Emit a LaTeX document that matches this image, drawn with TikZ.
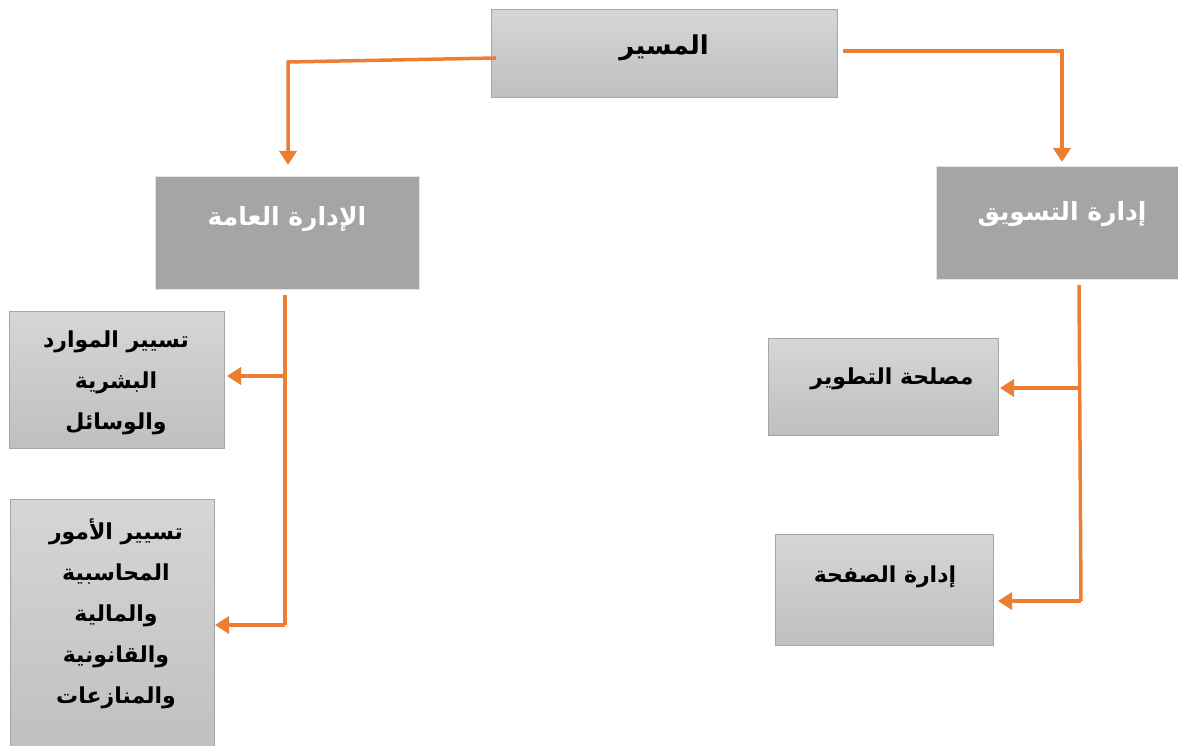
\documentclass[tikz,border=0pt]{standalone}
\usepackage{fontspec}
\usetikzlibrary{arrows.meta}
\TeXXeTstate=1
\newfontfamily\arabicfont[Script=Arabic]{DejaVu Sans}
\definecolor{orng}{HTML}{ED7D31}
\definecolor{lighttop}{HTML}{D6D6D6}
\definecolor{lightbot}{HTML}{BFBFBF}
\definecolor{lightedge}{HTML}{A6A6A6}
\definecolor{darkfill}{HTML}{A5A5A5}
\definecolor{darkedge}{HTML}{E4E4E4}
\tikzset{
  lightbox/.style={draw=lightedge, line width=1pt, top color=lighttop, bottom color=lightbot, anchor=north west, inner sep=0pt, outer sep=0pt},
  darkbox/.style={draw=darkedge, line width=1pt, fill=darkfill, anchor=north west, inner sep=0pt, outer sep=0pt},
  blacktxt/.style={text=black, font=\arabicfont\bfseries\fontsize{22}{41}\selectfont, align=center, inner sep=0pt},
  whitetxt/.style={text=white, font=\arabicfont\bfseries\fontsize{25}{30}\selectfont, align=center, inner sep=0pt},
  conn/.style={draw=orng, line width=3.5pt},
  arr/.style={conn, -{Triangle[length=14pt,width=17pt]}}
}
\begin{document}
\begin{tikzpicture}[x=1pt,y=-1pt]
\useasboundingbox (0,0) rectangle (1178,746);
% boxes
\node[lightbox, minimum width=346pt, minimum height=88pt] (top) at (491,10) {};
\node[darkbox, minimum width=264pt, minimum height=112pt] (ea) at (155,177) {};
\node[darkbox, minimum width=244pt, minimum height=112pt] (mk) at (936,167) {};
\node[lightbox, minimum width=215pt, minimum height=137pt] (hr) at (9,311) {};
\node[lightbox, minimum width=204pt, minimum height=260pt] (acc) at (10,499) {};
\node[lightbox, minimum width=230pt, minimum height=97pt] (dev) at (768,338) {};
\node[lightbox, minimum width=218pt, minimum height=111pt] (pg) at (775,534) {};
% texts
\node[blacktxt, font=\arabicfont\bfseries\fontsize{26}{30}\selectfont] (ttop) at (664,48) {\beginR المسير\endR};
\node[whitetxt] (tea) at (287,219) {\beginR الإدارة العامة\endR};
\node[whitetxt] (tmk) at (1062,214) {\beginR إدارة التسويق\endR};
\node[blacktxt] (thr) at (116,383) {\beginR تسيير الموارد\endR\\ \beginR البشرية\endR\\ \beginR والوسائل\endR};
\node[blacktxt] (tacc) at (116,614) {\beginR تسيير الأمور\endR\\ \beginR المحاسبية\endR\\ \beginR والمالية\endR\\ \beginR والقانونية\endR\\ \beginR والمنازعات\endR};
\node[blacktxt] (tdev) at (892,379) {\beginR مصلحة التطوير\endR};
\node[blacktxt] (tpg) at (885,577) {\beginR إدارة الصفحة\endR};
% connector points
\coordinate (ta) at (496,58);
\coordinate (tb) at (288,62);
\coordinate (tc) at (843,51);
\coordinate (td) at (1062,51);
\coordinate (eaT) at (285,295);
\coordinate (eaM) at (285,376);
\coordinate (eaB) at (285,625);
\coordinate (mkT) at (1079,285);
\coordinate (mkM) at (1080,388);
\coordinate (mkB) at (1081,601);
% connectors
\draw[arr, shorten >=12pt] (ta) -- (tb) -- (tb |- ea.north);
\draw[arr, shorten >=5pt] (tc) -- (td) -- (td |- mk.north);
\draw[conn] (eaT) -- (eaB);
\draw[arr, shorten >=3pt] (eaM) -- (eaM -| hr.east);
\draw[arr, shorten >=1pt] (eaB) -- (eaB -| acc.east);
\draw[conn] (mkT) -- (mkB);
\draw[arr, shorten >=2pt] (mkM) -- (mkM -| dev.east);
\draw[arr, shorten >=5pt] (mkB) -- (mkB -| pg.east);
\end{tikzpicture}
\end{document}
